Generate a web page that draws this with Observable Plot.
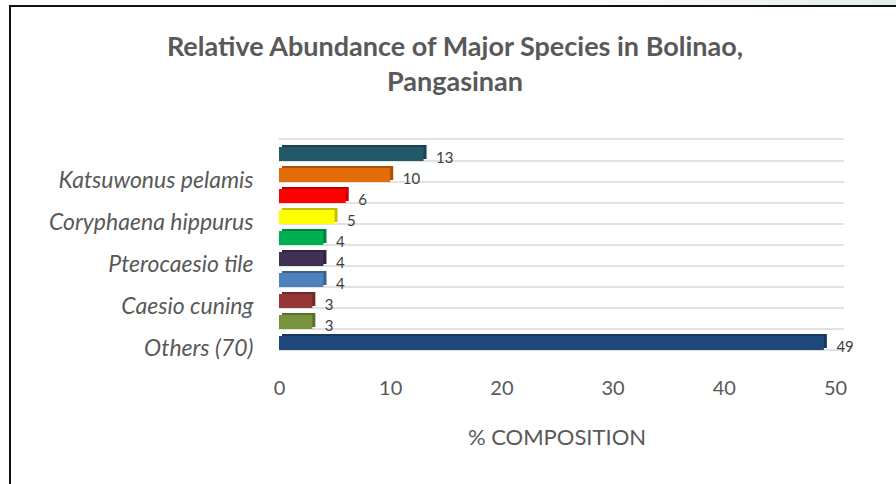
<!DOCTYPE html>
<html>
<head>
<meta charset="utf-8">
<script src="https://cdn.jsdelivr.net/npm/d3@7"></script>
<script src="https://cdn.jsdelivr.net/npm/@observablehq/plot@0.6"></script>
<style>
  html, body { margin: 0; padding: 0; background: #fff; }
  #wrap { position: relative; width: 896px; height: 484px; overflow: hidden; background: #fff; font-family: Lato, "Open Sans", sans-serif; }
  #topstrip { position: absolute; left: 0; top: 0; width: 896px; height: 5px; background: linear-gradient(to right, #ffffff 60%, #e4ecee 100%); }
  #frame { position: absolute; left: 9px; top: 5px; width: 900px; height: 500px; border-left: 2px solid #111; border-top: 2px solid #111; box-sizing: border-box; }
  #title { position: absolute; left: 0; width: 910px; top: 28px; text-align: center; font-weight: bold; font-size: 27px; line-height: 35px; color: #595959; }
  #xlabel { position: absolute; left: 279px; width: 556px; top: 423px; text-align: center; font-size: 22px; color: #595959; }
  #chart { position: absolute; left: 0; top: 0; }
</style>
</head>
<body>
<div id="wrap">
  <div id="topstrip"></div>
  <div id="frame"></div>
  <div id="chart"></div>
  <div id="title">Relative Abundance of Major Species in Bolinao,<br>Pangasinan</div>
  <div id="xlabel">% COMPOSITION</div>
</div>
<script>
// Categories top to bottom (unlabeled rows are not shown on the axis in the original)
const categories = [
  "Unlabeled species A",
  "Katsuwonus pelamis",
  "Unlabeled species B",
  "Coryphaena hippurus",
  "Unlabeled species C",
  "Pterocaesio tile",
  "Unlabeled species D",
  "Caesio cuning",
  "Unlabeled species E",
  "Others (70)"
];
const values = [13, 10, 6, 5, 4, 4, 4, 3, 3, 49];
const colors = ["#215968", "#E36C09", "#FF0000", "#FFFF00", "#00B050", "#3F3151", "#4F81BD", "#953735", "#77933C", "#1F497D"];
const xTicks = [0, 10, 20, 30, 40, 50];

const data = categories.map((c, i) => ({
  cat: c,
  value: values[i],
  color: colors[i],
  side: d3.color(colors[i]).darker(0.8).formatHex()
}));

const chart = Plot.plot({
  width: 896,
  height: 484,
  marginLeft: 279,
  marginRight: 61,
  marginTop: 142,
  marginBottom: 128,
  style: { fontFamily: "Lato, 'Open Sans', sans-serif", background: "transparent" },
  x: { domain: [0, 50], ticks: xTicks },
  y: { domain: categories, paddingInner: 0.32, paddingOuter: 0.16 },
  marks: [
    Plot.ruleY(categories, { dy: 6.5, stroke: "#d9d9d9", strokeWidth: 1.6, insetRight: -9 }),
    Plot.ruleY([categories[0]], { dy: -15.5, stroke: "#d9d9d9", strokeWidth: 1.6, insetRight: -9 }),
    Plot.barX(data, { x: "value", y: "cat", fill: "side", dx: 3, dy: -2 }),
    Plot.barX(data, { x: "value", y: "cat", fill: "color" }),
    Plot.text(data, { x: "value", y: "cat", text: d => String(d.value), dx: 12, dy: 4, textAnchor: "start", fontSize: 15, fill: "#404040" }),
    Plot.axisX({ ticks: xTicks, tickSize: 0, tickPadding: 24, fontSize: 20, color: "#595959", label: null }),
    Plot.axisY({
      tickSize: 0, tickPadding: 26, fontSize: 23, fontStyle: "italic", color: "#595959", label: null, dy: 5,
      tickFormat: (d) => (categories.indexOf(d) % 2 === 1 ? d : "")
    })
  ]
});
document.getElementById("chart").appendChild(chart);
</script>
</body>
</html>
